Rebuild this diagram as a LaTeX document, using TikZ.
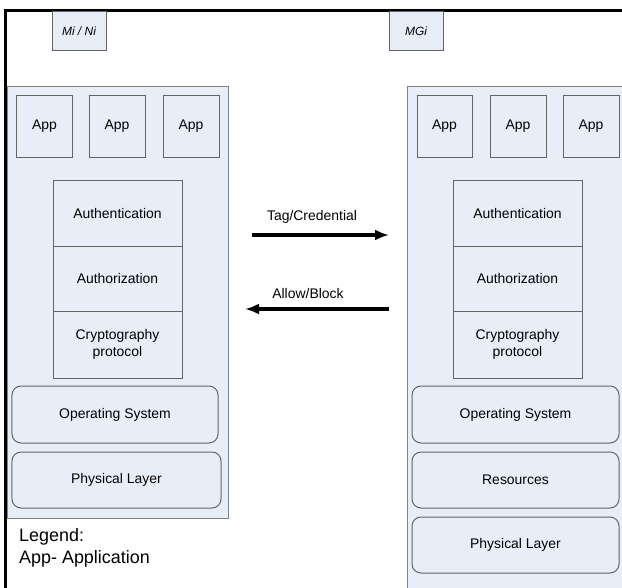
\documentclass[tikz,border=0pt]{standalone}
\usepackage{fontspec}
\setmainfont{Liberation Sans}
\usetikzlibrary{arrows.meta}
\definecolor{boxfill}{RGB}{232,238,248}
\definecolor{boxline}{RGB}{100,100,100}
\definecolor{panelline}{RGB}{130,130,130}
\begin{document}
\begin{tikzpicture}[x=1bp,y=-1bp,
  box/.style={draw=boxline,fill=boxfill,line width=1bp,inner sep=0pt,align=center,font=\fontsize{14}{16.5}\selectfont},
  rbox/.style={box,rounded corners=9bp},
  panel/.style={draw=panelline,fill=boxfill,line width=1bp},
  tagbox/.style={box,minimum width=54bp,minimum height=39bp,font=\fontsize{12}{14}\selectfont\itshape},
  appbox/.style={box,minimum width=55bp,minimum height=61bp},
  stackbox/.style={box,minimum width=129bp},
  flow/.style={line width=3.2bp,-{Latex[length=14bp,width=11bp]}},
  lbl/.style={font=\fontsize{14}{16.5}\selectfont,inner sep=0pt}
]
\useasboundingbox (0,0) rectangle (622,588);
% outer frame
\draw[line width=3bp] (5,595) -- (5,11) -- (630,11);
% tags
\node[tagbox] (mi) at (79,31.5) {Mi / Ni};
\node[tagbox] (mg) at (416,31.5) {MGi};
% panels
\draw[panel] (7,87) rectangle (228,518);
\draw[panel] (407,87) rectangle (630,600);
% left apps
\node[appbox] (lapp1) at (44.5,126.5) {App};
\node[appbox,minimum width=56bp] (lapp2) at (117,126.5) {App};
\node[appbox,minimum width=56bp] (lapp3) at (191,126.5) {App};
% left stack
\node[stackbox,minimum height=65bp] (lauth) at (117.5,213.5) {Authentication};
\node[stackbox,minimum height=65bp] (lauthz) at (117.5,278.5) {Authorization};
\node[stackbox,minimum height=67bp] (lcrypt) at (117.5,344.5) {Cryptography\\protocol};
\node[rbox,minimum width=206bp,minimum height=57bp] (los) at (115,414.5) {Operating System};
\node[rbox,minimum width=209bp,minimum height=56bp] (lphys) at (116.5,480) {Physical Layer};
% legend
\node[anchor=west,align=left,inner sep=0pt,font=\fontsize{18}{22}\selectfont] (legend) at (19,548) {Legend:\\App- Application};
% right apps
\node[appbox] (rapp1) at (444.5,126.5) {App};
\node[appbox,minimum width=56bp] (rapp2) at (518,126.5) {App};
\node[appbox,minimum width=56bp] (rapp3) at (591,126.5) {App};
% right stack
\node[stackbox,minimum height=65bp] (rauth) at (517.5,213.5) {Authentication};
\node[stackbox,minimum height=65bp] (rauthz) at (517.5,278.5) {Authorization};
\node[stackbox,minimum height=67bp] (rcrypt) at (517.5,344.5) {Cryptography\\protocol};
\node[rbox,minimum width=207bp,minimum height=57bp] (ros) at (515.5,414.5) {Operating System};
\node[rbox,minimum width=207bp,minimum height=56bp] (rres) at (515.5,480) {Resources};
\node[rbox,minimum width=207bp,minimum height=56bp] (rphys) at (515.5,545) {Physical Layer};
% arrows
\coordinate (t1) at (252,235);
\coordinate (t2) at (389,235);
\coordinate (a1) at (389,309);
\coordinate (a2) at (245,309);
\draw[flow] (t1) -- (t2);
\draw[flow] (a1) -- (a2);
\node[lbl] (tag) at (312,217) {Tag/Credential};
\node[lbl] (allow) at (308,294) {Allow/Block};
\end{tikzpicture}
\end{document}
